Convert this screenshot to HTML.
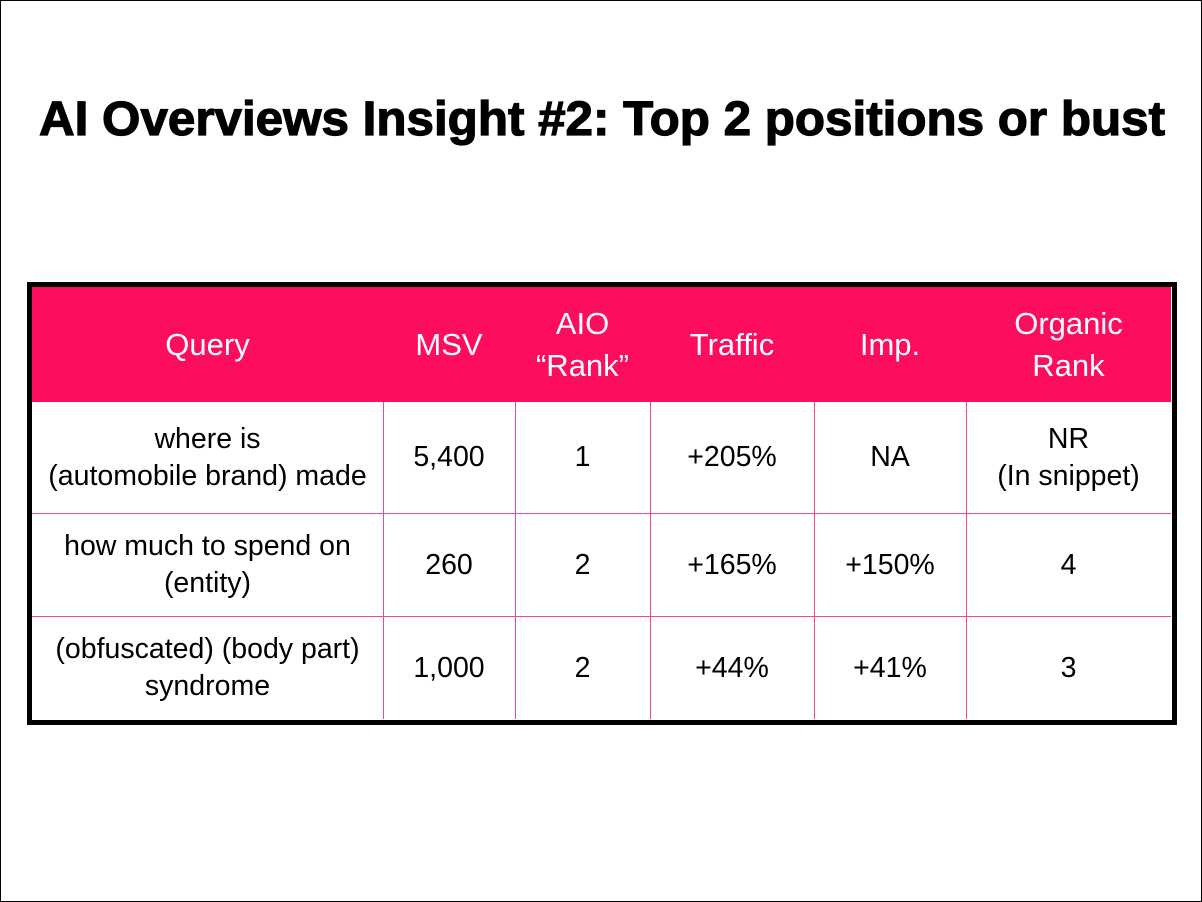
<!DOCTYPE html>
<html><head><meta charset="utf-8"><style>
html,body{margin:0;padding:0;background:#fff;}
#c{position:relative;width:1200px;height:900px;border:1px solid #000;overflow:hidden;font-family:"Liberation Sans",sans-serif;}
.t{position:absolute;display:flex;align-items:center;justify-content:center;text-align:center;font-size:28.5px;line-height:37px;color:#000;}
.h{color:#fff;font-size:31px;}
.v{position:absolute;width:1px;background:#f2497f;}
.hl{position:absolute;height:1px;background:#f2497f;left:31px;width:1139px;}
</style></head><body><div id="c">
<svg style="position:absolute;left:0;top:0" width="1200" height="200"><text x="601" y="134" text-anchor="middle" font-family="Liberation Sans" font-weight="bold" font-size="48" stroke="#000" stroke-width="1.2" textLength="1126" lengthAdjust="spacingAndGlyphs" fill="#000">AI Overviews Insight #2: Top 2 positions or bust</text></svg>
<div style="position:absolute;left:26px;top:281px;width:1140px;height:433px;border:5px solid #000;"></div>
<div style="position:absolute;left:31px;top:286px;width:1139px;height:115px;background:#fc0d5f;"></div>
<div class="v" style="left:382px;top:401px;height:317px"></div>
<div class="v" style="left:514px;top:401px;height:317px"></div>
<div class="v" style="left:649px;top:401px;height:317px"></div>
<div class="v" style="left:813px;top:401px;height:317px"></div>
<div class="v" style="left:965px;top:401px;height:317px"></div>
<div class="hl" style="top:512px"></div>
<div class="hl" style="top:615px"></div>
<div class="t h" style="left:31px;top:286px;width:351px;height:115px">Query</div>
<div class="t h" style="left:382px;top:286px;width:132px;height:115px">MSV</div>
<div class="t h" style="left:514px;top:286px;width:135px;height:115px;line-height:42px">AIO<br>“Rank”</div>
<div class="t h" style="left:649px;top:286px;width:164px;height:115px">Traffic</div>
<div class="t h" style="left:813px;top:286px;width:152px;height:115px">Imp.</div>
<div class="t h" style="left:965px;top:286px;width:205px;height:115px;line-height:42px">Organic<br>Rank</div>

<div class="t" style="left:31px;top:401px;width:351px;height:111px">where is<br>(automobile brand) made</div>
<div class="t" style="left:382px;top:401px;width:132px;height:111px">5,400</div>
<div class="t" style="left:514px;top:401px;width:135px;height:111px">1</div>
<div class="t" style="left:649px;top:401px;width:164px;height:111px">+205%</div>
<div class="t" style="left:813px;top:401px;width:152px;height:111px">NA</div>
<div class="t" style="left:965px;top:401px;width:205px;height:111px">NR<br>(In snippet)</div>

<div class="t" style="left:31px;top:513px;width:351px;height:102px">how much to spend on<br>(entity)</div>
<div class="t" style="left:382px;top:513px;width:132px;height:102px">260</div>
<div class="t" style="left:514px;top:513px;width:135px;height:102px">2</div>
<div class="t" style="left:649px;top:513px;width:164px;height:102px">+165%</div>
<div class="t" style="left:813px;top:513px;width:152px;height:102px">+150%</div>
<div class="t" style="left:965px;top:513px;width:205px;height:102px">4</div>

<div class="t" style="left:31px;top:616px;width:351px;height:102px">(obfuscated) (body part)<br>syndrome</div>
<div class="t" style="left:382px;top:616px;width:132px;height:102px">1,000</div>
<div class="t" style="left:514px;top:616px;width:135px;height:102px">2</div>
<div class="t" style="left:649px;top:616px;width:164px;height:102px">+44%</div>
<div class="t" style="left:813px;top:616px;width:152px;height:102px">+41%</div>
<div class="t" style="left:965px;top:616px;width:205px;height:102px">3</div>
</div></body></html>
